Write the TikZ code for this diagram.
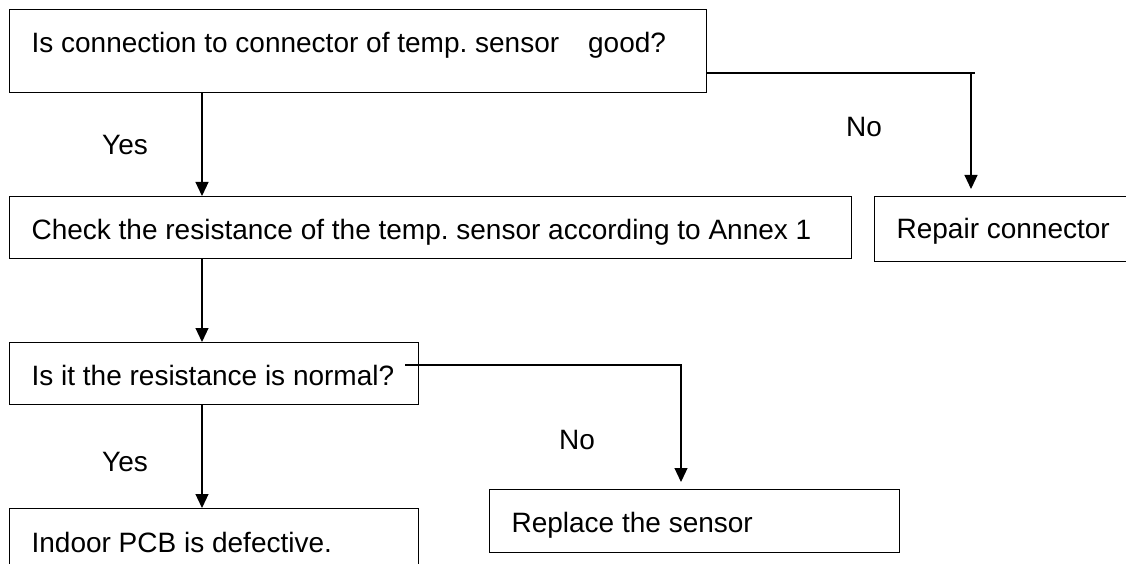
\documentclass[tikz,border=0pt]{standalone}
\usepackage{fontspec}
\setmainfont{Liberation Sans}
\usetikzlibrary{arrows.meta}
\begin{document}
\frenchspacing
\begin{tikzpicture}[x=1pt,y=-1pt,line width=1.2pt,
        every node/.style={font=\fontsize{28}{34}\selectfont},
        box/.style={draw, anchor=north west, inner xsep=22pt, inner ysep=0pt, align=flush left, text height=24pt, text depth=0pt},
        arr/.style={-{Triangle[length=14pt,width=13pt]}}]
        \clip (0,0) rectangle (1126,564);
        \node[box, text width=653pt, minimum height=83pt, text height=20pt, text depth=17pt] (q1) at (9,9) {Is connection to connector of temp. sensor\hspace{29pt}good?};
        \node[box, text width=798pt, minimum height=62pt] (check) at (9,196) {Check the resistance of the temp. sensor according to Annex 1};
        \node[box, text width=218pt, minimum height=65pt, text height=21pt, text depth=2pt] (repair) at (874,196) {Repair connector};
        \node[box, text width=365pt, minimum height=62pt] (q2) at (9,342) {Is it the resistance is normal?};
        \node[box, text width=366pt, minimum height=63pt, text height=23pt] (replace) at (489,489) {Replace the sensor};
        \node[box, text width=365pt, minimum height=62pt, text height=26pt] (pcb) at (9,508) {Indoor PCB is defective.};

        \coordinate (spine) at (202,0);
        \coordinate (n1) at (971,73);
        \coordinate (n2) at (681,365);
        \path[draw,arr] (q1.south -| spine) -- (check.north -| spine);
        \path[draw,arr] (check.south -| spine) -- (q2.north -| spine);
        \path[draw,arr] (q2.south -| spine) -- (pcb.north -| spine);
        \path[draw] (q1.east |- n1) -- ([xshift=4pt]n1);
        \path[draw,arr,shorten >=7pt] (n1) -- (repair.north -| n1);
        \path[draw,arr,shorten >=7pt] ([xshift=-14pt]q2.east |- n2) -- (n2) -- (replace.north -| n2);

        \node (yes1) at (125,145) {Yes};
        \node (no1) at (864,127) {No};
        \node (yes2) at (125,462) {Yes};
        \node (no2) at (577,440) {No};
    \end{tikzpicture}
\end{document}
